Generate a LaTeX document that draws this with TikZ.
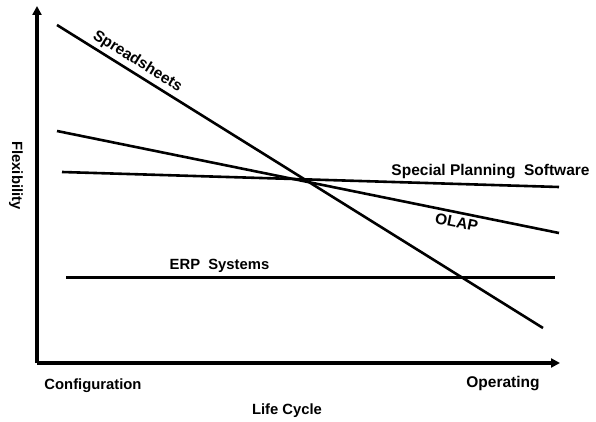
\documentclass[tikz,border=0pt]{standalone}
\usepackage{fontspec}
\setmainfont{Liberation Sans}
\usetikzlibrary{arrows.meta}
\begin{document}
\begin{tikzpicture}[x=1pt,y=-1pt,
  lbl/.style={font=\fontsize{14.8}{17}\selectfont\bfseries, inner sep=0pt},
  big/.style={font=\fontsize{15.5}{18}\selectfont\bfseries, inner sep=0pt},
  axis/.style={line width=4pt, -{Triangle[length=9pt,width=9pt]}},
  trend/.style={line width=2.6pt}]
\useasboundingbox (0,0) rectangle (596,422);

% axes
\coordinate (origin) at (37,363);
\coordinate (ytip) at (37,6);
\coordinate (xtip) at (560,363);
\draw[axis] (origin) -- (ytip);
\draw[axis] (origin) -- (xtip);

% trend lines
\coordinate (ss1) at (57,25);
\coordinate (ss2) at (543,328);
\coordinate (ol1) at (57,131);
\coordinate (ol2) at (559,233);
\coordinate (sp1) at (62,172);
\coordinate (sp2) at (559,187);
\coordinate (erp1) at (66,277.5);
\coordinate (erp2) at (555,277.5);

\draw[trend] (ss1) -- (ss2);
\draw[trend] (ol1) -- (ol2);
\draw[trend] (sp1) -- (sp2);
\draw[trend] (erp1) -- (erp2);

% line labels
\path (ss1) -- (ss2) node[big, pos=0.153, sloped, yshift=11.5pt] (sslbl) {Spreadsheets};
\path (ol1) -- (ol2) node[big, pos=0.80, sloped, yshift=-10pt] (ollbl) {OLAP};
\node[big] (splbl) at (490.5,172) {Special Planning\ \ Software};
\node[lbl] (erplbl) at (219.5,266) {ERP\ \ Systems};

% axis labels
\node[lbl, rotate=-90] (ylbl) at (16,175.5) {Flexibility};
\node[lbl] (conf) at (93,386) {Configuration};
\node[big] (oper) at (503,384) {Operating};
\node[lbl] (xlbl) at (287,411) {Life Cycle};
\end{tikzpicture}
\end{document}
